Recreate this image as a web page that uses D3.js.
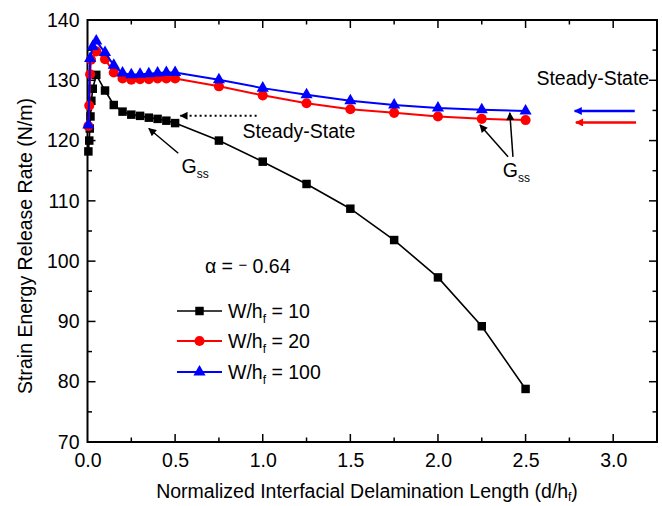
<!DOCTYPE html>
<html>
<head>
<meta charset="utf-8">
<script src="https://cdn.jsdelivr.net/npm/d3@7"></script>
<style>
  body { margin: 0; background: #fff; }
  text { font-family: Arial, "Liberation Sans", sans-serif; fill: #000; }
</style>
</head>
<body>
<div id="chart"></div>
<script>
// data
var xW10 = [0.005, 0.01, 0.013, 0.017, 0.022, 0.03, 0.05, 0.1, 0.15, 0.2, 0.25, 0.3, 0.35, 0.4, 0.45, 0.5, 0.75, 1.0, 1.25, 1.5, 1.75, 2.0, 2.25, 2.5];
var yW10 = [118.2, 120.0, 122.0, 124.0, 126.6, 128.6, 130.9, 128.3, 125.9, 124.8, 124.3, 124.1, 123.8, 123.6, 123.3, 122.9, 120.0, 116.5, 112.8, 108.7, 103.5, 97.3, 89.2, 78.8];

var xW20 = [0.005, 0.01, 0.015, 0.02, 0.05, 0.1, 0.15, 0.2, 0.25, 0.3, 0.35, 0.4, 0.45, 0.5, 0.75, 1.0, 1.25, 1.5, 1.75, 2.0, 2.25, 2.5];
var yW20 = [122.4, 125.8, 131.0, 133.4, 134.8, 133.5, 131.3, 130.3, 130.1, 130.2, 130.2, 130.3, 130.3, 130.3, 129.0, 127.5, 126.2, 125.2, 124.6, 124.0, 123.6, 123.4];

var xW100 = [0.005, 0.015, 0.03, 0.05, 0.1, 0.15, 0.2, 0.25, 0.3, 0.35, 0.4, 0.45, 0.5, 0.75, 1.0, 1.25, 1.5, 1.75, 2.0, 2.25, 2.5];
var yW100 = [122.6, 133.6, 135.6, 136.5, 134.6, 132.5, 131.2, 130.9, 131.0, 131.1, 131.2, 131.3, 131.3, 130.1, 128.7, 127.6, 126.6, 125.9, 125.4, 125.1, 124.9];

var seriesNames = ["W/h", "W/h", "W/h"];
var seriesValues = ["10", "20", "100"];
var xTicks = [0.0, 0.5, 1.0, 1.5, 2.0, 2.5, 3.0];
var yTicks = [70, 80, 90, 100, 110, 120, 130, 140];

var width = 662, height = 506;
var margin = {top: 20, right: 5, bottom: 64, left: 87.5};
var fs = 19.5, sub = 12;

var svg = d3.select("#chart").append("svg")
    .attr("width", width)
    .attr("height", height);

var x = d3.scaleLinear().domain([0, 3.25]).range([margin.left, width - margin.right]);
var y = d3.scaleLinear().domain([70, 140]).range([height - margin.bottom, margin.top]);

var defs = svg.append("defs");
function arrowMarker(id, color) {
  defs.append("marker")
      .attr("id", id)
      .attr("viewBox", "0 0 10 10")
      .attr("refX", 9).attr("refY", 5)
      .attr("markerWidth", 11).attr("markerHeight", 8)
      .attr("markerUnits", "userSpaceOnUse")
      .attr("orient", "auto")
    .append("path")
      .attr("d", "M0,0 L10,5 L0,10 z")
      .attr("fill", color);
}
arrowMarker("ahBlack", "#000");
arrowMarker("ahBlue", "#0000ff");
arrowMarker("ahRed", "#ff0000");

// axes: ticks inward
var xAxis = d3.axisBottom(x).tickValues(xTicks).tickFormat(d3.format(".1f")).tickSize(0).tickPadding(11);
var yAxis = d3.axisLeft(y).tickValues(yTicks).tickSize(0).tickPadding(8);

var gx = svg.append("g").attr("transform", "translate(0," + y.range()[0] + ")").call(xAxis);
var gy = svg.append("g").attr("transform", "translate(" + x.range()[0] + ",0)").call(yAxis);
[gx, gy].forEach(function (g) {
  g.select(".domain").remove();
  g.selectAll("text").attr("font-size", fs).attr("font-family", "Arial, 'Liberation Sans', sans-serif").attr("fill", "#000");
});

// inward ticks
var ticksG = svg.append("g").attr("stroke", "#000").attr("stroke-width", 1.5);
d3.range(0.25, 3.25, 0.25).forEach(function (v) {
  var major = Math.abs(v * 2 - Math.round(v * 2)) < 1e-6;
  ticksG.append("line")
      .attr("x1", x(v)).attr("x2", x(v))
      .attr("y1", y(70)).attr("y2", y(70) - (major ? 8 : 4.5));
  ticksG.append("line")
      .attr("x1", x(v)).attr("x2", x(v))
      .attr("y1", y(140)).attr("y2", y(140) + (major ? 8 : 4.5));
});
d3.range(75, 140, 5).forEach(function (v) {
  var major = v % 10 === 0;
  ticksG.append("line")
      .attr("x1", x(0)).attr("x2", x(0) + (major ? 8 : 4.5))
      .attr("y1", y(v)).attr("y2", y(v));
  ticksG.append("line")
      .attr("x1", x(3.25)).attr("x2", x(3.25) - (major ? 8 : 4.5))
      .attr("y1", y(v)).attr("y2", y(v));
});

// frame
svg.append("rect")
    .attr("x", x(0)).attr("y", y(140))
    .attr("width", x(3.25) - x(0)).attr("height", y(70) - y(140))
    .attr("fill", "none").attr("stroke", "#000").attr("stroke-width", 2);

// axis titles
svg.append("text")
    .attr("x", 367).attr("y", 498)
    .attr("text-anchor", "middle").attr("font-size", fs)
    .html("Normalized Interfacial Delamination Length (d/h<tspan font-size='" + sub + "' dy='3'>f</tspan><tspan dy='-3'>)</tspan>");

svg.append("text")
    .attr("transform", "translate(32,246) rotate(-90)")
    .attr("text-anchor", "middle").attr("font-size", fs)
    .text("Strain Energy Release Rate (N/m)");

// series
var series = [
  {xs: xW10, ys: yW10, color: "#000000", symbol: d3.symbolSquare, size: 72, width: 1.6},
  {xs: xW20, ys: yW20, color: "#ff0000", symbol: d3.symbolCircle, size: 80, width: 2},
  {xs: xW100, ys: yW100, color: "#0000ff", symbol: d3.symbolTriangle, size: 64, width: 2}
];

var line = d3.line().x(function (d) { return x(d[0]); }).y(function (d) { return y(d[1]); });

series.forEach(function (s) {
  var pts = d3.zip(s.xs, s.ys);
  svg.append("path")
      .datum(pts)
      .attr("d", line)
      .attr("fill", "none")
      .attr("stroke", s.color)
      .attr("stroke-width", s.width);
  svg.append("g").selectAll("path")
      .data(pts)
      .enter().append("path")
      .attr("transform", function (d) { return "translate(" + x(d[0]) + "," + y(d[1]) + ")"; })
      .attr("d", d3.symbol().type(s.symbol).size(s.size))
      .attr("fill", s.color);
});

// annotations (data coordinates)
function arrow(x1, y1, x2, y2, color, marker, w, dash) {
  svg.append("line")
      .attr("x1", x(x1)).attr("y1", y(y1))
      .attr("x2", x(x2)).attr("y2", y(y2))
      .attr("stroke", color).attr("stroke-width", w)
      .attr("stroke-dasharray", dash || null)
      .attr("marker-end", "url(#" + marker + ")");
}

arrow(0.965, 124.1, 0.53, 124.1, "#000", "ahBlack", 2, "2,3");
arrow(0.518, 117.9, 0.35, 122.0, "#000", "ahBlack", 1.5);
arrow(2.40, 117.3, 2.24, 122.6, "#000", "ahBlack", 1.5);
arrow(2.428, 117.3, 2.41, 124.6, "#000", "ahBlack", 1.5);
arrow(3.123, 124.9, 2.78, 124.9, "#0000ff", "ahBlue", 2.5);
arrow(3.13, 123.0, 2.787, 123.0, "#ff0000", "ahRed", 2.5);

function label(dx, dy, html) {
  svg.append("text")
      .attr("x", x(dx)).attr("y", y(dy))
      .attr("font-size", fs)
      .html(html);
}

label(0.885, 120.5, "Steady-State");
label(2.562, 129.2, "Steady-State");
label(0.537, 114.7, "G<tspan font-size='" + sub + "' dy='5'>ss</tspan>");
label(2.37, 113.9, "G<tspan font-size='" + sub + "' dy='5'>ss</tspan>");
label(0.67, 98.0, "α = <tspan font-size='15' dy='-3'>−</tspan><tspan dy='3'>  0.64</tspan>");

// legend
var legend = svg.append("g");
var legendY = [311, 341, 372];
series.forEach(function (s, i) {
  var row = legend.append("g").attr("transform", "translate(0," + legendY[i] + ")");
  row.append("line")
      .attr("x1", 177).attr("x2", 222)
      .attr("stroke", s.color).attr("stroke-width", s.width);
  row.append("path")
      .attr("transform", "translate(199.5,0)")
      .attr("d", d3.symbol().type(s.symbol).size(s.size))
      .attr("fill", s.color);
  row.append("text")
      .attr("x", 228).attr("y", 7)
      .attr("font-size", fs)
      .html(seriesNames[i] + "<tspan font-size='" + sub + "' dy='5'>f</tspan><tspan dy='-5'> = " + seriesValues[i] + "</tspan>");
});
</script>
</body>
</html>
